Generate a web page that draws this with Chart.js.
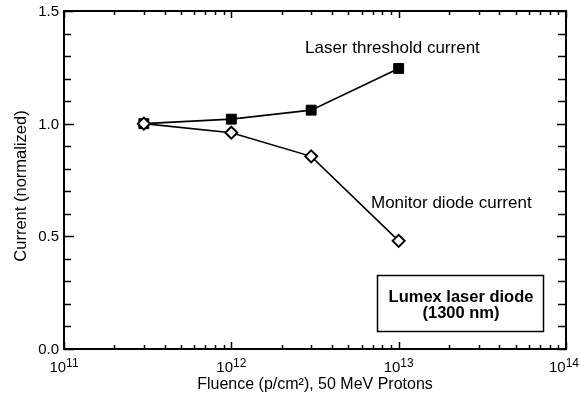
<!DOCTYPE html>
<html>
<head>
<meta charset="utf-8">
<script src="https://cdn.jsdelivr.net/npm/chart.js@4.4.1/dist/chart.umd.min.js"></script>
<style>
  html, body { margin: 0; padding: 0; background: #fff; }
  #wrap { width: 580px; height: 397px; }
</style>
</head>
<body>
<div id="wrap"><canvas id="grafico" width="580" height="397"></canvas></div>
<script>
// ==================== DADOS ====================
const fluence = [3e11, 1e12, 3e12, 1e13];
const thresholdCurrent = [1.0, 1.02, 1.06, 1.245];
const monitorCurrent = [1.0, 0.96, 0.855, 0.48];

const yTickValues = [0, 0.1, 0.2, 0.3, 0.4, 0.5, 0.6, 0.7, 0.8, 0.9, 1.0, 1.1, 1.2, 1.3, 1.4, 1.5];
const yTickLabels = ['0.0', '0.5', '1.0', '1.5'];
const xDecades = [11, 12, 13, 14];

const FONT = '"Liberation Sans", Arial, sans-serif';

function pontos(ys) {
    return fluence.map((x, i) => ({ x: x, y: ys[i] }));
}

// ==================== PLUGIN: MOLDURA, TICKS, TEXTOS ====================
const molduraPlugin = {
    id: 'moldura',
    afterDraw(chart) {
        const ctx = chart.ctx;
        const a = chart.chartArea;
        const xs = chart.scales.x;
        const ys = chart.scales.y;
        ctx.save();
        ctx.strokeStyle = '#000';
        ctx.fillStyle = '#000';

        // ticks y (esquerda e direita)
        ctx.lineWidth = 1.5;
        yTickValues.forEach(v => {
            const py = Math.round(ys.getPixelForValue(v)) + 0.5;
            const major = Math.abs((v * 10) % 5) < 0.01;
            const len = major ? 10 : 7;
            ctx.beginPath();
            ctx.moveTo(a.left, py); ctx.lineTo(a.left + len, py);
            ctx.moveTo(a.right, py); ctx.lineTo(a.right - (major ? 9 : 8), py);
            ctx.stroke();
        });

        // ticks x (baixo e cima), log
        xDecades.forEach(d => {
            for (let m = 1; m <= 9; m++) {
                if (d === 14 && m > 1) break;
                const px = Math.round(xs.getPixelForValue(m * Math.pow(10, d))) + 0.5;
                const len = m === 1 ? 7 : 4;
                ctx.beginPath();
                ctx.moveTo(px, a.bottom); ctx.lineTo(px, a.bottom - len);
                ctx.moveTo(px, a.top); ctx.lineTo(px, a.top + len);
                ctx.stroke();
            }
        });

        // moldura
        ctx.lineWidth = 2;
        ctx.strokeRect(a.left, a.top, a.right - a.left, a.bottom - a.top);

        // rótulos y
        ctx.font = '15px ' + FONT;
        ctx.textAlign = 'right';
        ctx.textBaseline = 'middle';
        yTickLabels.forEach(t => {
            ctx.fillText(t, a.left - 5, ys.getPixelForValue(parseFloat(t)) + 1);
        });

        // rótulos x: 10^n
        ctx.textBaseline = 'alphabetic';
        ctx.textAlign = 'left';
        xDecades.forEach(d => {
            const px = xs.getPixelForValue(Math.pow(10, d));
            ctx.font = '15px ' + FONT;
            const wBase = ctx.measureText('10').width;
            ctx.font = '12px ' + FONT;
            const wExp = ctx.measureText(String(d)).width;
            const total = wBase + wExp;
            const x0 = Math.min(px - total / 2, 579 - total);
            ctx.font = '15px ' + FONT;
            ctx.fillText('10', x0, a.bottom + 23);
            ctx.font = '12px ' + FONT;
            ctx.fillText(String(d), x0 + wBase, a.bottom + 18);
        });

        // títulos
        ctx.font = '16px ' + FONT;
        ctx.textAlign = 'center';
        ctx.fillText('Fluence (p/cm²), 50 MeV Protons', (a.left + a.right) / 2, 389);
        ctx.save();
        ctx.translate(26, 186);
        ctx.rotate(-Math.PI / 2);
        ctx.font = '16.5px ' + FONT;
        ctx.fillText('Current (normalized)', 0, 0);
        ctx.restore();

        // anotações das séries
        ctx.font = '17px ' + FONT;
        ctx.textAlign = 'left';
        ctx.fillText('Laser threshold current', 305, 53);
        ctx.fillText('Monitor diode current', 371, 208);

        // caixa
        ctx.lineWidth = 1.5;
        ctx.strokeRect(377.5, 275.5, 166, 56);
        ctx.font = 'bold 16.5px ' + FONT;
        ctx.textAlign = 'center';
        ctx.fillText('Lumex laser diode', 461, 302);
        ctx.fillText('(1300 nm)', 461, 318);

        ctx.restore();
    }
};

// ==================== GRÁFICO ====================
const ctx = document.getElementById('grafico').getContext('2d');
new Chart(ctx, {
    type: 'scatter',
    data: {
        datasets: [
            {
                label: 'Monitor diode current',
                data: pontos(monitorCurrent),
                showLine: true,
                borderColor: '#000',
                borderWidth: 1.6,
                pointStyle: 'rectRot',
                pointRadius: 6,
                pointBorderWidth: 2,
                pointBackgroundColor: '#fff',
                pointBorderColor: '#000'
            },
            {
                label: 'Laser threshold current',
                data: pontos(thresholdCurrent),
                showLine: true,
                borderColor: '#000',
                borderWidth: 1.6,
                pointStyle: 'rect',
                pointRadius: 7,
                pointBorderWidth: 1,
                pointBackgroundColor: '#000',
                pointBorderColor: '#000'
            }
        ]
    },
    options: {
        responsive: false,
        animation: false,
        layout: { padding: { left: 64, right: 14, top: 11, bottom: 48 } },
        plugins: {
            legend: { display: false },
            tooltip: { enabled: false }
        },
        scales: {
            x: { type: 'logarithmic', min: 1e11, max: 1e14, display: false },
            y: { type: 'linear', min: 0, max: 1.5, display: false }
        }
    },
    plugins: [molduraPlugin]
});
</script>
</body>
</html>
